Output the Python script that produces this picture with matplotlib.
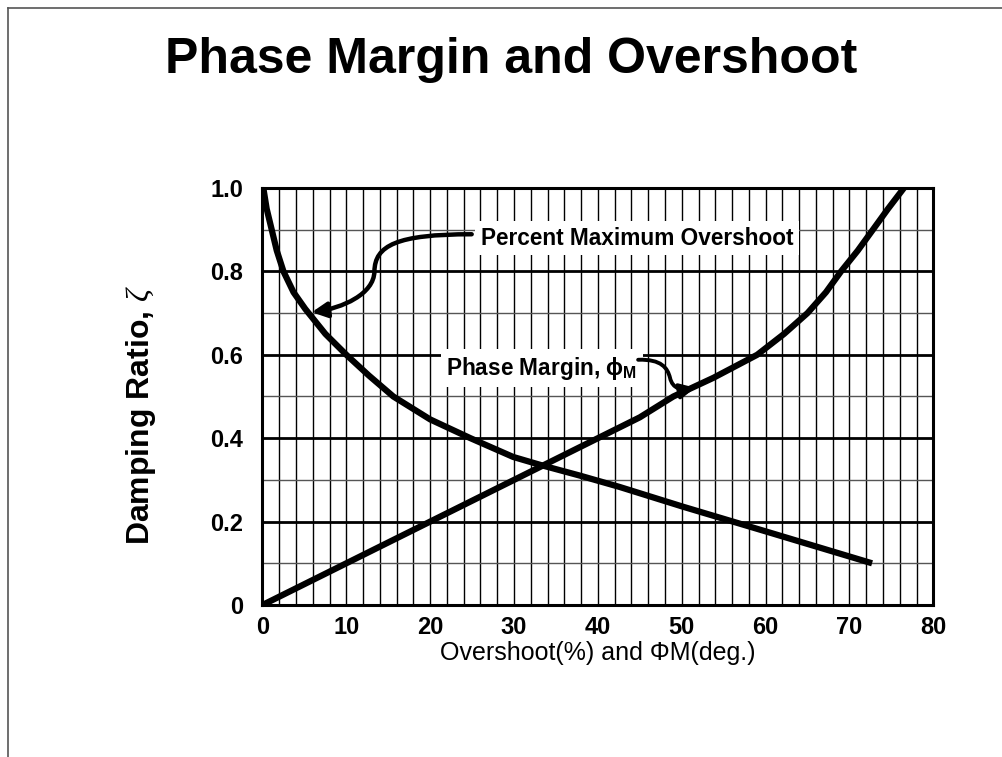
import numpy as np
import matplotlib
matplotlib.use("Agg")
import matplotlib.pyplot as plt
from matplotlib.lines import Line2D
from matplotlib.patches import FancyArrowPatch
from matplotlib.path import Path

plt.rcParams["font.family"] = ["Liberation Sans", "DejaVu Sans"]
plt.rcParams["mathtext.fontset"] = "custom"
plt.rcParams["mathtext.rm"] = "Liberation Sans"
plt.rcParams["mathtext.bf"] = "Liberation Sans:bold"
plt.rcParams["mathtext.it"] = "Liberation Serif:italic"


# ─── Datos ────────────────────────────────────────────────────────────────────

# Curva de sobrepaso máximo: x = sobrepaso (%), y = zeta
overshoot_x = [0.1, 0.5, 1.1, 1.7, 2.5, 3.7, 5.1, 7.5, 10.0, 12.7, 15.6,
               20.0, 24.8, 29.9, 33.3, 37.9, 42.6, 50.1, 60.1, 72.7]
overshoot_z = [1.0, 0.95, 0.9, 0.85, 0.8, 0.75, 0.71, 0.65, 0.6, 0.55, 0.5,
               0.445, 0.40, 0.355, 0.335, 0.31, 0.283, 0.236, 0.176, 0.10]

# Curva de margen de fase: x = PM (grados), y = zeta
pm_x = [0.0, 10.0, 20.0, 30.0, 40.0, 45.0, 49.0, 53.8, 59.0, 62.2,
        65.0, 67.2, 69.0, 71.0, 72.8, 74.6, 76.5]
pm_z = [0.0, 0.10, 0.20, 0.30, 0.40, 0.45, 0.50, 0.545, 0.60, 0.65,
        0.70, 0.75, 0.80, 0.85, 0.90, 0.95, 1.0]

x_ticks = [0, 10, 20, 30, 40, 50, 60, 70, 80]
y_ticks = [0, 0.2, 0.4, 0.6, 0.8, 1.0]
y_tick_labels = ["0", "0.2", "0.4", "0.6", "0.8", "1.0"]

# Flechas de las etiquetas: puntos de control Bezier (coordenadas de datos)
po_arrow = [(24.95, 0.889), (16.0, 0.889), (13.4, 0.862), (13.35, 0.800),
            (13.3, 0.745), (9.5, 0.712), (5.87, 0.702)]
pm_arrow = [(44.8, 0.588), (47.6, 0.590), (48.3, 0.568), (48.6, 0.545),
            (48.9, 0.518), (50.0, 0.514), (51.6, 0.521)]


# ─── Figura ───────────────────────────────────────────────────────────────────

fig = plt.figure(figsize=(10.03, 7.57), dpi=100)
ax = fig.add_axes([0.2617, 0.2008, 0.6688, 0.5509])

ax.set_xlim(0, 80)
ax.set_ylim(0, 1.0)
ax.set_xticks(x_ticks)
ax.set_xticks(np.arange(0, 81, 2), minor=True)
ax.set_yticks(y_ticks)
ax.set_yticklabels(y_tick_labels)
ax.set_yticks(np.arange(0, 1.01, 0.1), minor=True)
ax.tick_params(which="both", length=0)
ax.tick_params(axis="x", pad=8, labelsize=17)
ax.tick_params(axis="y", pad=14, labelsize=17)
for lab in ax.get_xticklabels() + ax.get_yticklabels():
    lab.set_fontweight("bold")

ax.grid(axis="x", which="both", color="black", lw=1.0)
ax.grid(axis="y", which="major", color="black", lw=2.0)
ax.grid(axis="y", which="minor", color="#555555", lw=1.0)
ax.set_axisbelow(True)
for s in ax.spines.values():
    s.set_linewidth(2.2)

ax.plot(overshoot_x, overshoot_z, color="black", lw=4.5,
        solid_capstyle="butt", solid_joinstyle="round", zorder=3)
ax.plot(pm_x, pm_z, color="black", lw=4.5,
        solid_capstyle="butt", solid_joinstyle="round", zorder=3)

box = dict(boxstyle="square,pad=0.25", fc="white", ec="none")
ax.text(44.7, 0.880, "Percent Maximum Overshoot", fontsize=16.3,
        fontweight="bold", ha="center", va="center", bbox=box, zorder=4)
ax.text(33.3, 0.568, r"Phase Margin, $\mathbf{\phi}_\mathbf{M}$", fontsize=16.3,
        fontweight="bold", ha="center", va="center", bbox=box, zorder=4)

codes = [Path.MOVETO] + [Path.CURVE4] * 6
for pts, lw in [(po_arrow, 3.2), (pm_arrow, 2.8)]:
    arr = FancyArrowPatch(path=Path(pts, codes),
                          arrowstyle="-|>,head_length=9,head_width=4.5",
                          color="black", lw=lw, zorder=5,
                          transform=ax.transData)
    ax.add_patch(arr)

fig.text(0.51, 0.9036, "Phase Margin and Overshoot", fontsize=36,
         fontweight="bold", ha="center", va="baseline")
fig.text(0.1406, 0.452, r"Damping Ratio, $\zeta$", fontsize=23,
         fontweight="bold", rotation=90, ha="center", va="center")
fig.text(0.596, 0.137, "Overshoot(%) and ΦM(deg.)", fontsize=18,
         ha="center", va="center")

# marco de la diapositiva (arriba e izquierda)
fig.add_artist(Line2D([0.008, 1.0], [0.989, 0.989], color="#555555", lw=1.2))
fig.add_artist(Line2D([0.008, 0.008], [0.0, 0.989], color="#555555", lw=1.2))

fig.savefig("out.png", dpi=100)
